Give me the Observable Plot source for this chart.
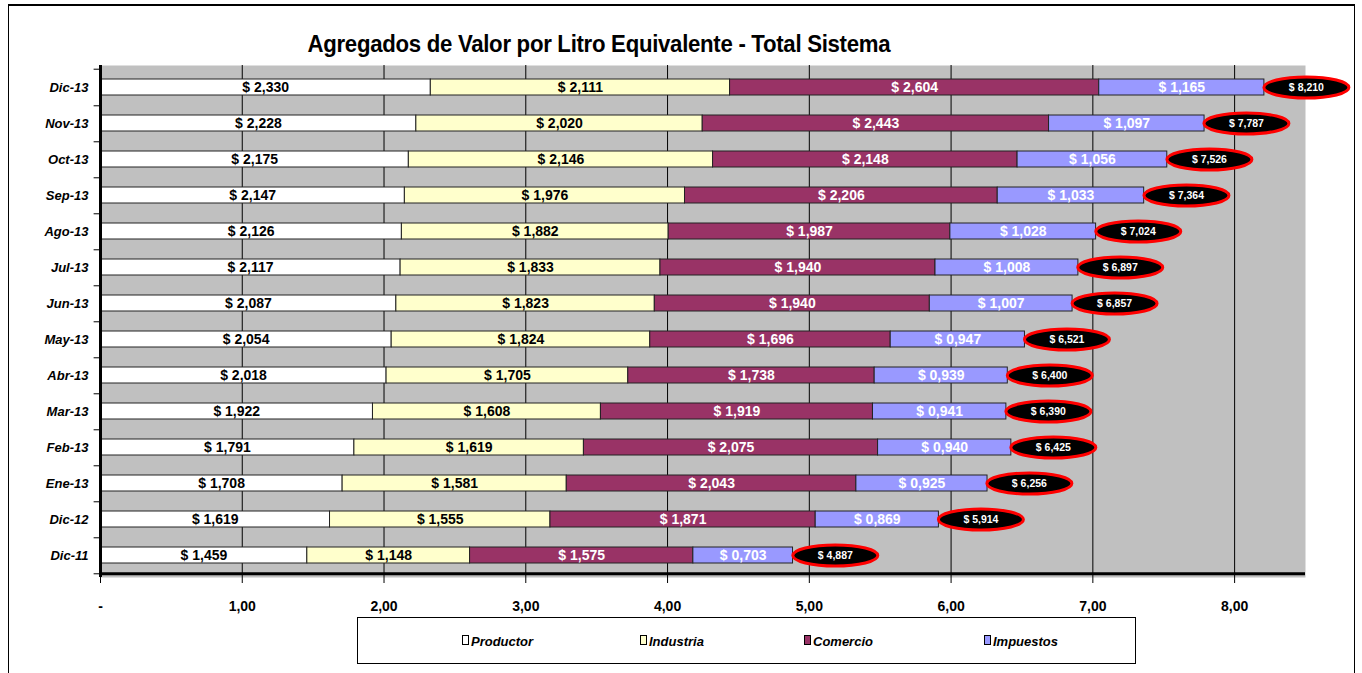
<!DOCTYPE html>
<html>
<head>
<meta charset="utf-8">
<script src="https://cdn.jsdelivr.net/npm/d3@7"></script>
<script src="https://cdn.jsdelivr.net/npm/@observablehq/plot@0.6"></script>
<style>
  html, body { margin: 0; padding: 0; background: #fff; width: 1362px; height: 673px; overflow: hidden; }
  #frame { position: absolute; left: 8px; top: 4px; width: 1347px; height: 700px; border: 1px solid #000; border-top-width: 2px; box-sizing: border-box; }
  #title { position: absolute; left: 297px; width: 600px; top: 31px; text-align: center; font-family: "Liberation Sans", Arial, sans-serif; font-weight: bold; font-size: 23px; color: #000; white-space: nowrap; transform: scaleX(0.965); transform-origin: 50% 50%; letter-spacing: -0.3px; }
  #chart { position: absolute; left: 0; top: 55px; }
  #chart svg { overflow: visible; }
  #legend { position: absolute; left: 357px; top: 617px; width: 779px; height: 47px; border: 1px solid #000; box-sizing: border-box; background: #fff; font-family: "Liberation Sans", Arial, sans-serif; font-style: italic; font-weight: bold; font-size: 13px; }
  .item { position: absolute; top: 16px; white-space: nowrap; }
  .sw { display: inline-block; width: 5px; height: 8px; border: 1px solid #000; margin-right: 2px; vertical-align: 1px; }
</style>
</head>
<body>
<div id="frame"></div>
<div id="title">Agregados de Valor por Litro Equivalente - Total Sistema</div>
<div id="chart"></div>
<div id="legend"></div>
<script>
const months = ["Dic-13","Nov-13","Oct-13","Sep-13","Ago-13","Jul-13","Jun-13","May-13","Abr-13","Mar-13","Feb-13","Ene-13","Dic-12","Dic-11"];
const productor = [2.330,2.228,2.175,2.147,2.126,2.117,2.087,2.054,2.018,1.922,1.791,1.708,1.619,1.459];
const industria = [2.111,2.020,2.146,1.976,1.882,1.833,1.823,1.824,1.705,1.608,1.619,1.581,1.555,1.148];
const comercio  = [2.604,2.443,2.148,2.206,1.987,1.940,1.940,1.696,1.738,1.919,2.075,2.043,1.871,1.575];
const impuestos = [1.165,1.097,1.056,1.033,1.028,1.008,1.007,0.947,0.939,0.941,0.940,0.925,0.869,0.703];
const totals    = [8.210,7.787,7.526,7.364,7.024,6.897,6.857,6.521,6.400,6.390,6.425,6.256,5.914,4.887];
const series = ["Productor","Industria","Comercio","Impuestos"];
const colors = ["#FFFFFF","#FFFFCC","#993366","#9999FF"];
const xTicks = [0,1,2,3,4,5,6,7,8];

const seriesValues = [productor, industria, comercio, impuestos];
const rows = [];
months.forEach((m, i) => series.forEach((s, j) => rows.push({month: m, series: s, value: seriesValues[j][i]})));
const totalRows = months.map((m, i) => ({month: m, total: totals[i]}));

const fmt = v => "$ " + v.toFixed(3).replace(".", ",");

const ellipse = {
  draw(ctx) {
    const rx = 42.5, ry = 10.5, k = 0.5523;
    ctx.moveTo(rx, 0);
    ctx.bezierCurveTo(rx, ry * k, rx * k, ry, 0, ry);
    ctx.bezierCurveTo(-rx * k, ry, -rx, ry * k, -rx, 0);
    ctx.bezierCurveTo(-rx, -ry * k, -rx * k, -ry, 0, -ry);
    ctx.bezierCurveTo(rx * k, -ry, rx, -ry * k, rx, 0);
    ctx.closePath();
  }
};

const step = 512 / 14;
const darkSeries = new Set(["Productor","Industria"]);

const chart = Plot.plot({
  width: 1362,
  height: 560,
  marginLeft: 100,
  marginRight: 57,
  marginTop: 10,
  marginBottom: 38,
  x: {domain: [0, 8.5]},
  y: {domain: months, paddingInner: 0.55, paddingOuter: 0.275},
  color: {domain: series, range: colors},
  style: {fontFamily: "'Liberation Sans', Arial, sans-serif", background: "transparent", color: "#000"},
  marks: [
    Plot.frame({fill: "#C0C0C0", stroke: null}),
    Plot.ruleX(xTicks.slice(1), {stroke: "#000", strokeWidth: 1}),
    Plot.barX(rows, {x: "value", y: "month", fill: "series", stroke: "#222", strokeWidth: 1}),
    Plot.text(rows, Plot.stackX({x: "value", y: "month", z: "series",
      text: d => darkSeries.has(d.series) ? fmt(d.value) : "", fill: "#000", fontWeight: "bold", fontSize: 14})),
    Plot.text(rows, Plot.stackX({x: "value", y: "month", z: "series",
      text: d => darkSeries.has(d.series) ? "" : fmt(d.value), fill: "#fff", fontWeight: "bold", fontSize: 14})),
    Plot.dot(totalRows, {x: "total", y: "month", dx: 42, symbol: ellipse, fill: "#000", stroke: "#FF0000", strokeWidth: 3}),
    Plot.text(totalRows, {x: "total", y: "month", dx: 42, text: d => fmt(d.total), fill: "#fff", fontWeight: "bold", fontSize: 10.5}),
    Plot.ruleX([0], {stroke: "#000", strokeWidth: 3}),
    Plot.ruleY(months, {y: d => d, x1: -0.045, x2: 0, dy: step / 2, stroke: "#000", strokeWidth: 1}),
    Plot.ruleY([months[0]], {y: d => d, x1: -0.045, x2: 0, dy: -step / 2, stroke: "#000", strokeWidth: 1}),
    Plot.ruleY([months[months.length - 1]], {y: d => d, x1: 0, x2: 8.5, dy: step / 2, stroke: "#000", strokeWidth: 3}),
    Plot.axisX({ticks: xTicks, tickFormat: d => d === 0 ? "-" : d.toFixed(2).replace(".", ","),
      tickSize: 6, tickPadding: 18, fontWeight: "bold", fontSize: 14, label: null, stroke: "#000"}),
    Plot.axisY({tickSize: 0, tickPadding: 12, fontStyle: "italic", fontWeight: "bold", fontSize: 13, label: null})
  ]
});
document.getElementById("chart").appendChild(chart);

const legendPos = [104, 282, 446, 626];
const legend = document.getElementById("legend");
series.forEach((s, i) => {
  const el = document.createElement("div");
  el.className = "item";
  el.style.left = legendPos[i] + "px";
  el.innerHTML = `<span class="sw" style="background:${colors[i]}"></span>${s}`;
  legend.appendChild(el);
});
</script>
</body>
</html>
